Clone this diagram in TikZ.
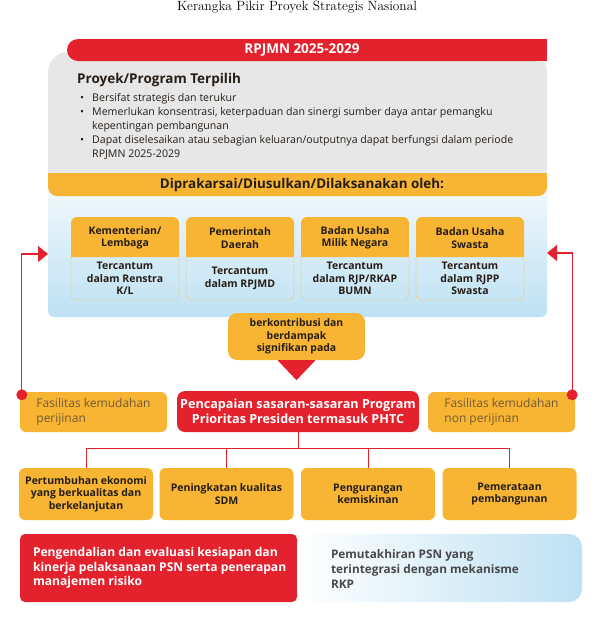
\documentclass[tikz,border=0pt]{standalone}
\usepackage{fontspec}
\setsansfont{Open Sans}
\usetikzlibrary{arrows.meta,positioning,calc}

\definecolor{psnred}{RGB}{228,34,46}
\definecolor{psnyellow}{RGB}{248,180,51}
\definecolor{psngray}{RGB}{231,231,232}
\definecolor{psnblue}{RGB}{190,225,243}
\definecolor{psndark}{RGB}{38,30,22}
\definecolor{psnbrown}{RGB}{112,92,52}
\definecolor{psnslate}{RGB}{72,72,74}
\definecolor{psndash}{RGB}{232,200,120}

\newcommand{\fsz}[2]{\fontsize{#1}{#2}\selectfont}

\tikzset{
  every node/.style={inner sep=0pt},
  bodytxt/.style={font=\sffamily\fsz{10.6}{14}, text=psndark},
  boldtxt/.style={font=\sffamily\bfseries\fsz{10.5}{12.5}, text=psndark, align=center},
  ybox/.style={fill=psnyellow, rounded corners=6pt},
  kontribbox/.style={ybox, rounded corners=9pt, minimum width=137pt, minimum height=47pt, boldtxt,
    font=\sffamily\bfseries\fsz{10.4}{12.5}},
  pcpbox/.style={fill=psnred, rounded corners=8pt, minimum width=242pt, minimum height=41pt,
    font=\sffamily\bfseries\fsz{12.6}{15}, text=white, align=center},
  fasbox/.style={ybox, minimum width=147pt, minimum height=40pt,
    font=\sffamily\fsz{12}{15}, text=psnbrown, align=left},
  goalbox/.style={ybox, minimum width=134pt, minimum height=52pt, boldtxt},
  dot/.style={circle, fill=psnred, minimum size=11pt},
  fb/.style={psnred, line width=1.1pt, -{Triangle[width=16pt,length=10pt]}},
  tree/.style={psnred, line width=1pt}
}

\begin{document}
\begin{tikzpicture}[x=1pt,y=-1pt]
  \useasboundingbox (0,0) rectangle (599,622);

  %% Title
  \node[font=\fsz{13.4}{15}] (title) at (297,7) {Kerangka Pikir Proyek Strategis Nasional};

  %% Gray panel, blue panel and RPJMN header
  \fill[psngray, rounded corners=20pt] (48,52) rectangle (547,190);
  \shade[top color=psnblue!20, bottom color=psnblue, rounded corners=6pt] (48,185) rectangle (547,317);
  \fill[psnred, rounded corners=11pt] (67,39) rectangle (547,61);
  \fill[psnred] (300,39) rectangle (547,61);
  \node[font=\sffamily\bfseries\fsz{13.5}{15}, text=white] (rpjmn) at (302,50) {RPJMN 2025-2029};

  %% Selected projects
  \node[anchor=base west, font=\sffamily\bfseries\fsz{13.5}{16}, text=psndark] (terpilih) at (77,83.5)
    {Proyek/Program Terpilih};
  \foreach \y/\t in {98/{Bersifat strategis dan terukur},
                     112/{Memerlukan konsentrasi, keterpaduan dan sinergi sumber daya antar pemangku},
                     126/{kepentingan pembangunan},
                     140/{Dapat diselesaikan atau sebagian keluaran/outputnya dapat berfungsi dalam periode},
                     154/{RPJMN 2025-2029}}{
    \node[anchor=base west, bodytxt] (line-\y) at (92,\y+3.5) {\t};
  }
  \foreach \y in {98,112,140}{
    \node[anchor=base west, bodytxt] (bullet-\y) at (80,\y+3.5) {\textbullet};
  }

  %% Yellow bar
  \fill[psnyellow, rounded corners=9pt] (48,173) rectangle (547,196);
  \fill[psnyellow] (48,173) rectangle (547,185);
  \node[font=\sffamily\bfseries\fsz{13.4}{15}, text=psndark] (oleh) at (302,185)
    {Diprakarsai/Diusulkan/Dilaksanakan oleh:};

  %% Institutions and their plans
  \foreach \i/\x/\head/\plan in {1/125/{Kementerian/\\Lembaga}/{Tercantum\\dalam Renstra\\K/L},
                                 2/240/{Pemerintah\\Daerah}/{Tercantum\\dalam RPJMD},
                                 3/355/{Badan Usaha\\Milik Negara}/{Tercantum\\dalam RJP/RKAP\\BUMN},
                                 4/470/{Badan Usaha\\Swasta}/{Tercantum\\dalam RJPP\\Swasta}}{
    \fill[psnyellow, rounded corners=6pt] (\x-54,257) -- (\x-54,217) -- (\x+54,217) -- (\x+54,257);
    \draw[psndash, dash pattern=on 1.5pt off 1.5pt, line width=0.9pt, rounded corners=6pt]
      (\x-54,257) -- (\x-54,300) -- (\x+54,300) -- (\x+54,257);
    \node[boldtxt] (inst-\i) at (\x,238) {\head};
    \node[boldtxt] (plan-\i) at (\x,278.5) {\plan};
  }

  %% Contribution
  \node[kontribbox] (kontrib) at (296.5,336.5) {berkontribusi dan\\berdampak\\signifikan pada};
  \fill[psnred] ($(kontrib.south)+(-19,0)$) -- ($(kontrib.south)+(19,0)$)
    -- ($(kontrib.south)+(0,20)$) -- cycle;

  %% Presidential priority programme and facilities
  \node[pcpbox] (pcp) at (298,411.5) {Pencapaian sasaran-sasaran Program\\Prioritas Presiden termasuk PHTC};
  \node[fasbox] (fas-l) at (93.5,412) {Fasilitas kemudahan\\perijinan};
  \node[fasbox] (fas-r) at (501.5,412) {Fasilitas kemudahan\\non perijinan};

  %% Feedback to the institutions
  \coordinate (in-l) at (48,254);
  \coordinate (in-r) at (547,253);
  \node[dot] (dot-l) at ($(fas-l.north west)+(2,3)$) {};
  \node[dot] (dot-r) at ($(fas-r.north east)+(-3,3)$) {};
  \draw[fb] (dot-l.center) |- (in-l);
  \draw[fb] (dot-r.center) |- (in-r);

  %% Goals
  \foreach \i/\x/\t in {1/86/{Pertumbuhan ekonomi\\yang berkualitas dan\\berkelanjutan},
                        2/226.5/{Peningkatan kualitas\\SDM},
                        3/368/{Pengurangan\\kemiskinan},
                        4/509.5/{Pemerataan\\pembangunan}}{
    \node[goalbox] (goal-\i) at (\x,494) {\t};
    \draw[tree] (pcp.south) -- ++(0,16) -| (goal-\i.north);
  }

  %% Monitoring and update
  \node[fill=psnred, rounded corners=5pt, minimum width=277pt, minimum height=68pt] (kendali) at (158.5,568) {};
  \node[anchor=west, font=\sffamily\bfseries\fsz{12.1}{14.5}, text=white, align=left] (kendali-txt)
    at ($(kendali.west)+(13,0)$)
    {Pengendalian dan evaluasi kesiapan dan\\kinerja pelaksanaan PSN serta penerapan\\manajemen risiko};
  \node[left color=white, right color=psnblue, rounded corners=13pt, minimum width=285pt,
    minimum height=68pt] (update) at (439.5,568) {};
  \node[anchor=west, font=\sffamily\bfseries\fsz{11.8}{15}, text=psnslate, align=left] (update-txt)
    at ($(update.west)+(34,1)$)
    {Pemutakhiran PSN yang\\terintegrasi dengan mekanisme\\RKP};
\end{tikzpicture}
\end{document}
